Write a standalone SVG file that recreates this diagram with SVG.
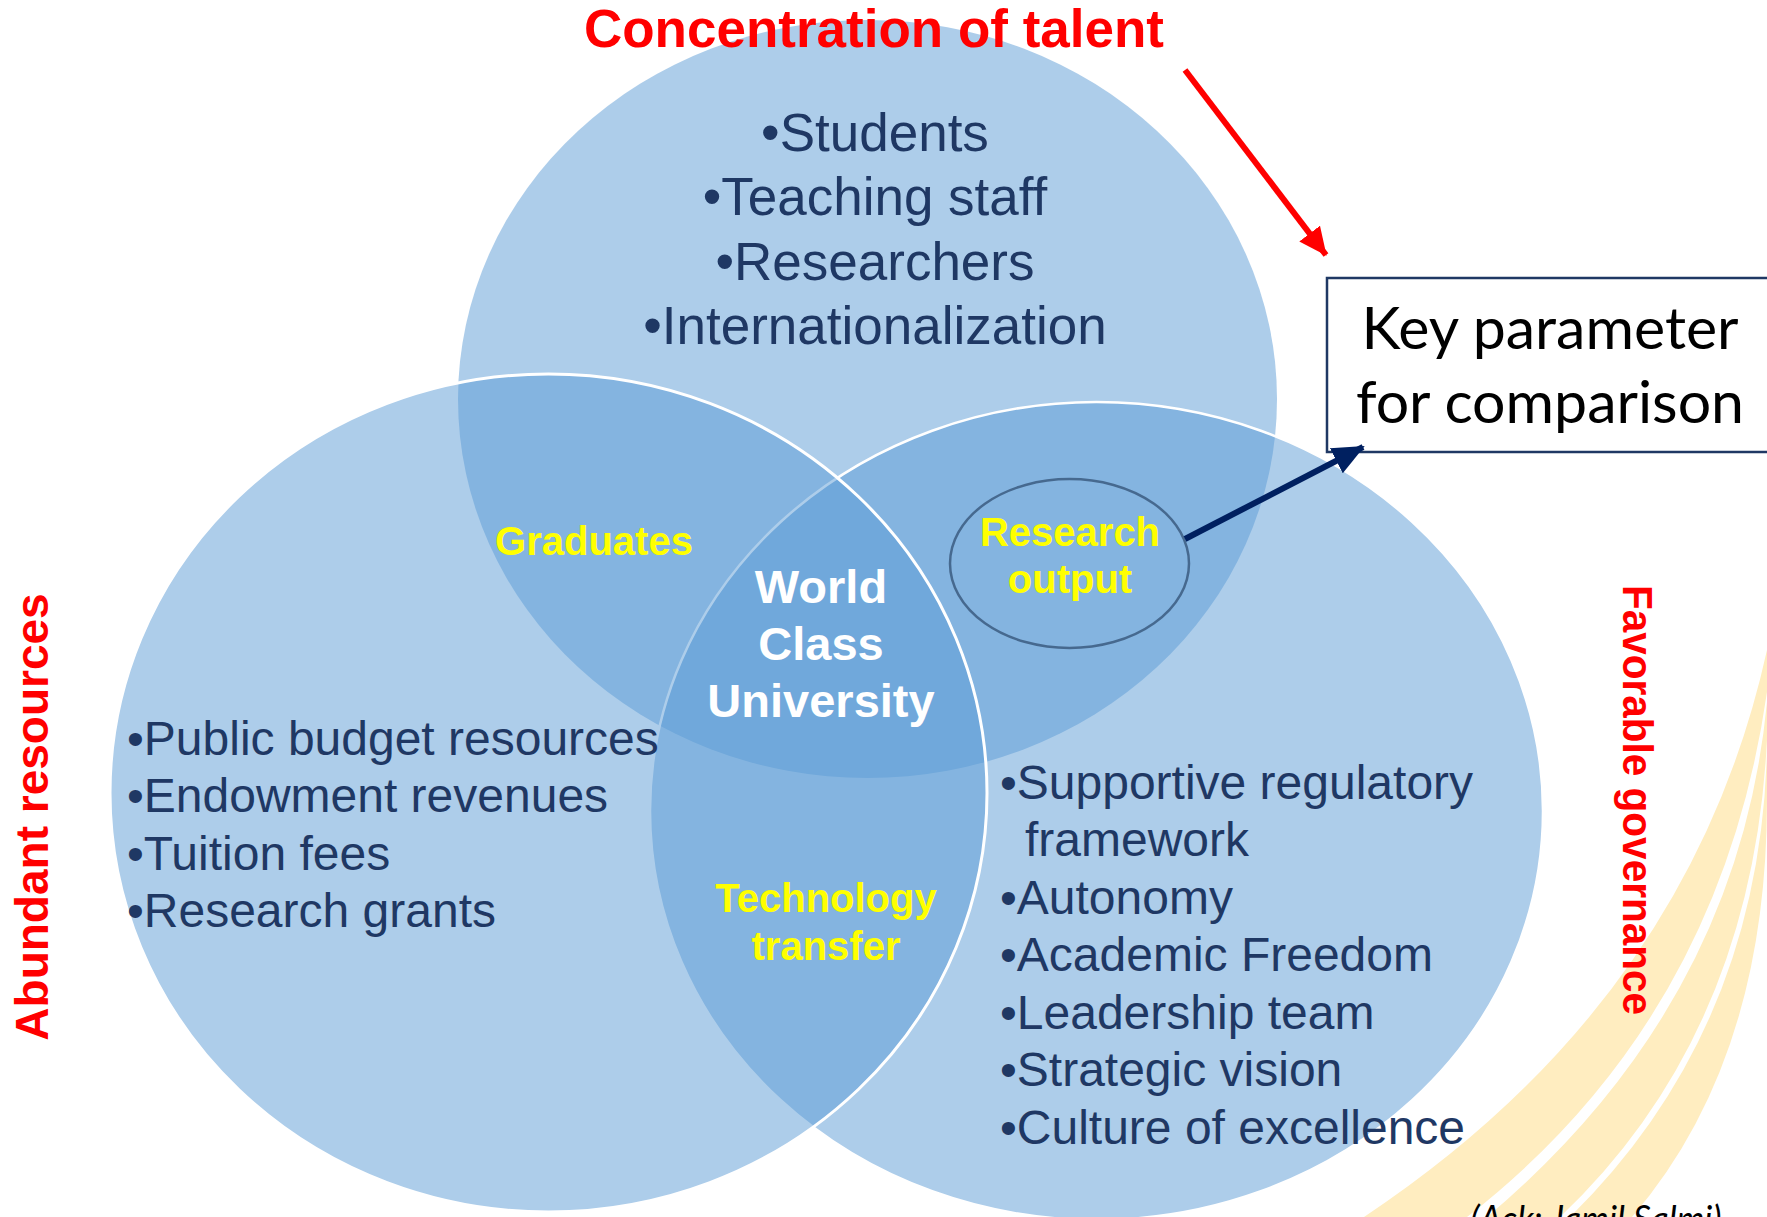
<svg xmlns="http://www.w3.org/2000/svg" width="1767" height="1217" viewBox="0 0 1767 1217">
  <defs>
    <style>
      .circ { fill: #5B9BD5; fill-opacity: 0.5; }
      .mask { fill: #FFFFFF; }
      .swoosh { fill: #FFEDC0; }
      .list { font-family: "Liberation Sans", Arial, sans-serif; fill: #1F3864; }
      .ylab { font-family: "Liberation Sans", Arial, sans-serif; font-weight: bold; fill: #FFFF00; font-size: 40px; text-anchor: middle; }
      .wlab { font-family: "Liberation Sans", Arial, sans-serif; font-weight: bold; fill: #FFFFFF; font-size: 47px; text-anchor: middle; }
      .red { font-family: "Liberation Sans", Arial, sans-serif; font-weight: bold; fill: #FF0000; }
      .box { font-family: Lato, "Open Sans", sans-serif; fill: #000000; font-size: 59px; text-anchor: middle; }
    </style>
    <marker id="navyHead" markerUnits="userSpaceOnUse" markerWidth="34" markerHeight="30" refX="30" refY="14" orient="auto">
      <path d="M0,0 L32,14 L0,28 Z" fill="#002060"/>
    </marker>
    <marker id="redHead" markerUnits="userSpaceOnUse" markerWidth="30" markerHeight="28" refX="27" refY="13" orient="auto">
      <path d="M0,0 L28,13 L0,26 Z" fill="#FF0000"/>
    </marker>
  </defs>

  <rect width="1767" height="1217" fill="#FFFFFF"/>

  <g id="swooshes">
    <path class="swoosh" d="M1364,1217 Q1690,1000 1767,650 L1767,692 Q1720,1020 1467,1217 Z"/>
    <path class="swoosh" d="M1487,1217 Q1738,1005 1767,702 L1767,740 Q1752,1035 1560,1217 Z"/>
    <path class="swoosh" d="M1570,1217 Q1760,1030 1767,750 L1767,800 Q1767,1060 1632,1217 Z"/>
  </g>

  <g id="masks">
    <ellipse class="mask" cx="867.5" cy="399" rx="409.5" ry="379"/>
    <ellipse class="mask" cx="1096.5" cy="811" rx="446.5" ry="409"/>
    <ellipse class="mask" cx="548.5" cy="793" rx="438.5" ry="419"/>
  </g>

  <g id="talent-circle">
    <ellipse class="circ" cx="867.5" cy="399" rx="409.5" ry="379"/>
  </g>
  <g id="governance-circle">
    <ellipse class="circ" cx="1096.5" cy="811" rx="446.5" ry="409" stroke="#FFFFFF" stroke-width="2.5"/>
  </g>
  <g id="resources-circle">
    <ellipse class="circ" cx="548.5" cy="793" rx="438.5" ry="419" stroke="#FFFFFF" stroke-width="3"/>
  </g>

  <g id="research-output">
    <ellipse cx="1069.5" cy="563.5" rx="119.5" ry="84.5" fill="none" stroke="#46698F" stroke-width="2.5"/>
    <text class="ylab" x="1070" y="546">Research</text>
    <text class="ylab" x="1070" y="593">output</text>
  </g>

  <g id="talent-list" class="list" font-size="53" text-anchor="middle">
    <text x="875" y="151">•Students</text>
    <text x="875" y="215">•Teaching staff</text>
    <text x="875" y="280">•Researchers</text>
    <text x="875" y="344">•Internationalization</text>
  </g>

  <g id="resources-list" class="list" font-size="48">
    <text x="127" y="755">•Public budget resources</text>
    <text x="127" y="812">•Endowment revenues</text>
    <text x="127" y="870">•Tuition fees</text>
    <text x="127" y="927">•Research grants</text>
  </g>

  <g id="governance-list" class="list" font-size="48">
    <text x="1000" y="799">•Supportive regulatory</text>
    <text x="1025" y="856">framework</text>
    <text x="1000" y="914">•Autonomy</text>
    <text x="1000" y="971">•Academic Freedom</text>
    <text x="1000" y="1029">•Leadership team</text>
    <text x="1000" y="1086">•Strategic vision</text>
    <text x="1000" y="1144">•Culture of excellence</text>
  </g>

  <g id="graduates">
    <text class="ylab" x="594" y="555">Graduates</text>
  </g>
  <g id="technology-transfer">
    <text class="ylab" x="826" y="912">Technology</text>
    <text class="ylab" x="826" y="960">transfer</text>
  </g>
  <g id="world-class-university">
    <text class="wlab" x="821" y="603">World</text>
    <text class="wlab" x="821" y="660">Class</text>
    <text class="wlab" x="821" y="717">University</text>
  </g>

  <g id="title-talent">
    <text class="red" x="874" y="47" font-size="53" text-anchor="middle">Concentration of talent</text>
  </g>
  <g id="title-resources">
    <text class="red" font-size="46" text-anchor="middle" transform="translate(48,817) rotate(-90)">Abundant resources</text>
  </g>
  <g id="title-governance">
    <text class="red" font-size="43" text-anchor="middle" textLength="430" lengthAdjust="spacingAndGlyphs" transform="translate(1623,800) rotate(90)">Favorable governance</text>
  </g>

  <g id="key-parameter">
    <rect x="1327" y="278" width="470" height="174" fill="#FFFFFF" stroke="#1F3864" stroke-width="2.5"/>
    <text class="box" x="1550" y="349">Key parameter</text>
    <text class="box" x="1550" y="423">for comparison</text>
  </g>

  <g id="connectors">
    <line x1="1185" y1="539" x2="1363" y2="447" stroke="#002060" stroke-width="6" marker-end="url(#navyHead)"/>
    <line x1="1185" y1="70" x2="1326" y2="255" stroke="#FF0000" stroke-width="6" marker-end="url(#redHead)"/>
  </g>

  <g id="acknowledgement">
    <text x="1596" y="1232" font-family="Lato, 'Open Sans', sans-serif" font-style="italic" font-size="36" fill="#000000" text-anchor="middle" textLength="251" lengthAdjust="spacingAndGlyphs">(Ack: Jamil Salmi)</text>
  </g>
</svg>
